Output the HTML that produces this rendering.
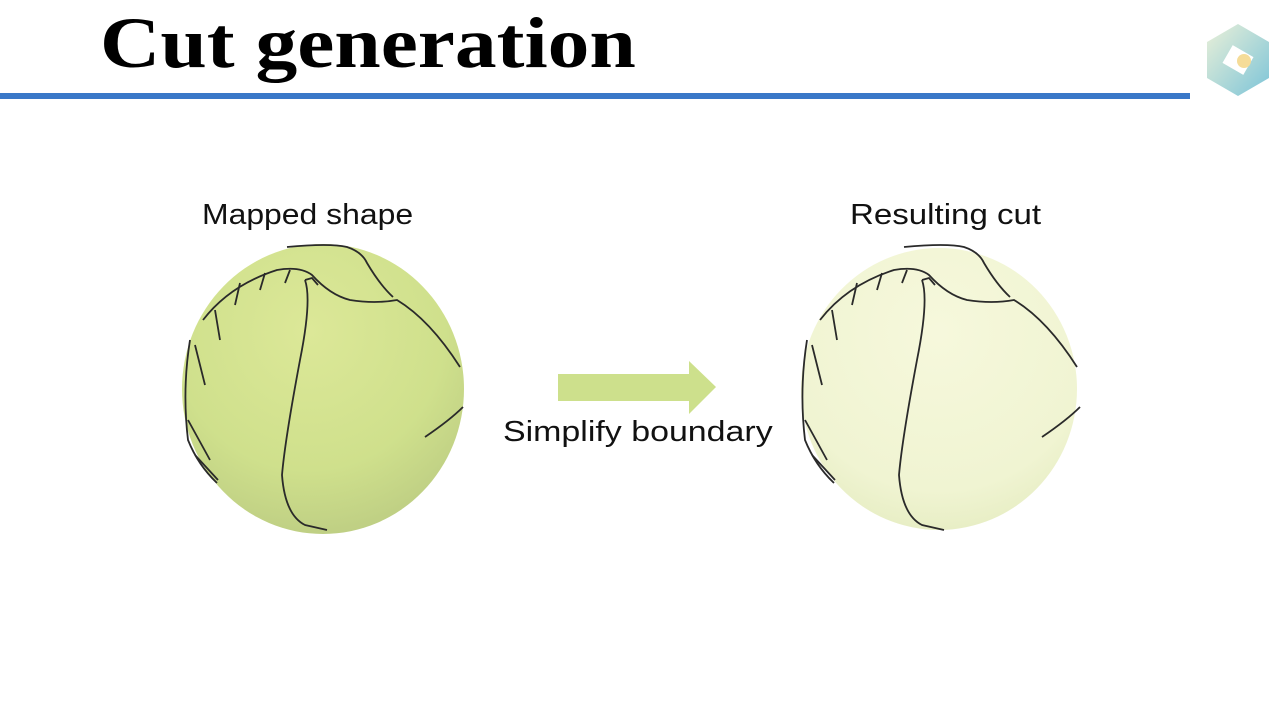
<!DOCTYPE html>
<html><head><meta charset="utf-8"><style>
body{margin:0;width:1280px;height:717px;background:#fff;overflow:hidden;position:relative;font-family:"Liberation Sans",sans-serif}
.t{position:absolute;left:100px;top:2px;font:bold 72px "Liberation Serif",serif;color:#000;transform-origin:0 0;transform:scaleX(1.16);white-space:nowrap}
.bar{position:absolute;left:0;top:93px;width:1190px;height:6px;background:#3a78c8}
.l{position:absolute;font-size:29px;color:#111;white-space:nowrap;transform-origin:0 0}
</style></head><body>
<div class="t">Cut generation</div>
<div class="bar"></div>
<div class="l" style="left:202px;top:199px;transform:scaleX(1.1)">Mapped shape</div>
<div class="l" style="left:850px;top:199px;transform:scaleX(1.14)">Resulting cut</div>
<div class="l" style="left:503px;top:416px;transform:scaleX(1.17)">Simplify boundary</div>
<svg width="1280" height="717" style="position:absolute;left:0;top:0">
<defs>
<radialGradient id="g1" cx="0.45" cy="0.3" r="0.8"><stop offset="0" stop-color="#dce898"/><stop offset="0.6" stop-color="#cfe08c"/><stop offset="1" stop-color="#b8c880"/></radialGradient>
<radialGradient id="g2" cx="0.5" cy="0.3" r="0.8"><stop offset="0" stop-color="#f6f8dc"/><stop offset="0.7" stop-color="#f0f4d2"/><stop offset="1" stop-color="#e2eabc"/></radialGradient>
<linearGradient id="c1" x1="0" y1="0" x2="1" y2="1"><stop offset="0" stop-color="#eaf0d8"/><stop offset="1" stop-color="#7cc4d8"/></linearGradient>
</defs>
<ellipse cx="323" cy="389" rx="141" ry="145" fill="url(#g1)"/>
<ellipse cx="939" cy="389" rx="138" ry="141" fill="url(#g2)"/>
<g fill="none" stroke="#2a2a2a" stroke-width="1.8">
<g id="cuts">
<path d="M305,280 Q312,300 300,360 Q285,440 282,475 Q285,515 305,525 Q318,528 327,530"/>
<path d="M203,320 Q230,285 277,270 Q300,266 312,275 Q330,295 350,300 Q375,304 397,300 Q430,320 460,367"/>
<path d="M287,247 Q330,243 347,247 Q362,252 367,263 Q380,285 393,297"/>
<path d="M190,340 Q182,390 188,440 Q198,465 217,483"/>
<path d="M425,437 Q450,420 463,407"/>
<path d="M305,280 L312,278 L318,285"/>
<path d="M240,283 L235,305 M265,273 L260,290 M290,270 L285,283 M215,310 L220,340 M195,345 L205,385"/>
<path d="M188,420 L210,460 M195,455 L218,480"/>
</g>
<use href="#cuts" transform="translate(617,0)"/>
</g>
<rect x="558" y="374" width="132" height="27" fill="#cde08c"/>
<polygon points="689,361 716,387 689,414" fill="#cde08c"/>
<g transform="translate(1238,60)">
<polygon points="0,-36 31,-18 31,18 0,36 -31,18 -31,-18" fill="url(#c1)"/>
<polygon points="-12,-12 12,-12 12,12 -12,12" fill="#fff" transform="rotate(30) scale(1,0.85)"/>
<circle cx="6" cy="1" r="7" fill="#f5dc98"/>
</g>
</svg>
</body></html>
